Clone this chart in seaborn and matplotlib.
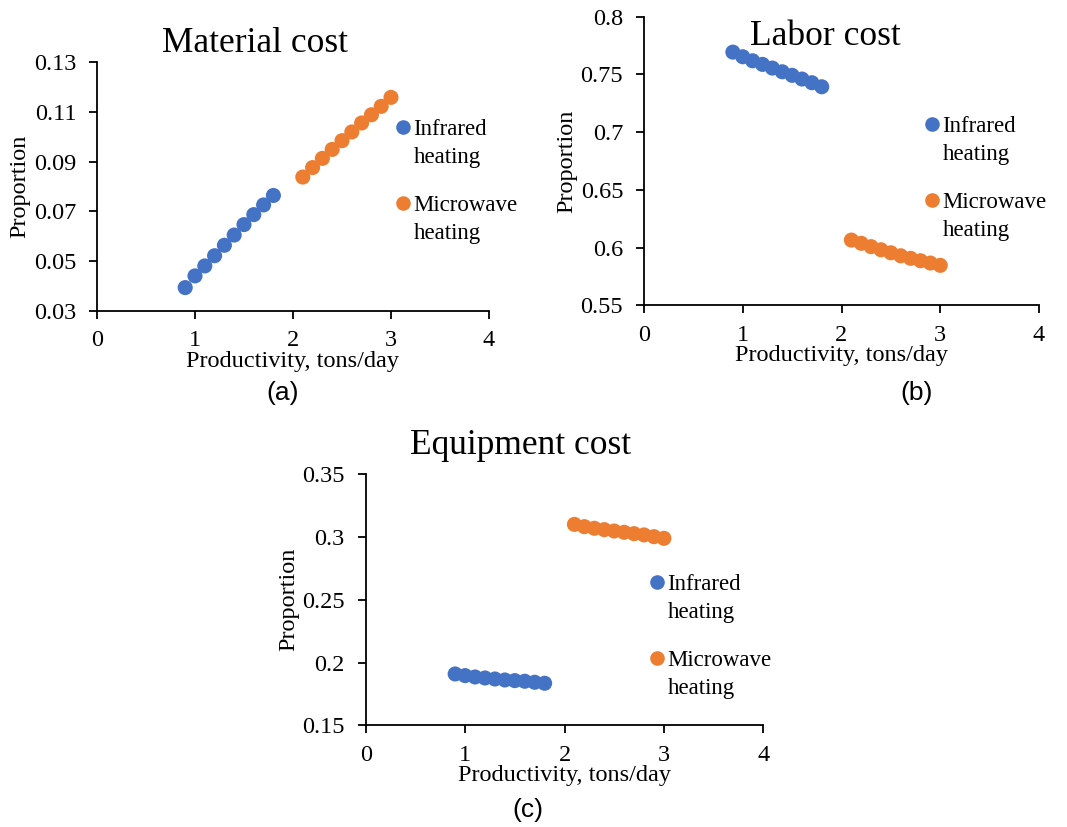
import numpy as np
import pandas as pd
import matplotlib
matplotlib.use("Agg")
import matplotlib.pyplot as plt
from matplotlib.lines import Line2D
from matplotlib.legend_handler import HandlerLine2D
import seaborn as sns

# Productivity levels (tons/day) for each heating method
productivity_ir = [0.9, 1.0, 1.1, 1.2, 1.3, 1.4, 1.5, 1.6, 1.7, 1.8]
productivity_mw = [2.1, 2.2, 2.3, 2.4, 2.5, 2.6, 2.7, 2.8, 2.9, 3.0]

# Cost proportions
material_ir = [0.0394, 0.0441, 0.0481, 0.0522, 0.0564, 0.0605, 0.0647, 0.0687, 0.0726, 0.0764]
material_mw = [0.0838, 0.0876, 0.0913, 0.0949, 0.0984, 0.1019, 0.1055, 0.1088, 0.1122, 0.1158]

labor_ir = [0.7693, 0.7653, 0.7618, 0.7587, 0.7555, 0.7523, 0.7492, 0.7460, 0.7428, 0.7393]
labor_mw = [0.6065, 0.6037, 0.6008, 0.5981, 0.5955, 0.5929, 0.5907, 0.5886, 0.5866, 0.5846]

equipment_ir = [0.1909, 0.1896, 0.1885, 0.1877, 0.1869, 0.1861, 0.1856, 0.1851, 0.1843, 0.1835]
equipment_mw = [0.3101, 0.3083, 0.3070, 0.3059, 0.3048, 0.3038, 0.3027, 0.3017, 0.3003, 0.2990]

methods = ["Infrared heating", "Microwave heating"]
legend_labels = ["Infrared\nheating", "Microwave\nheating"]
palette = {"Infrared heating": "#4472C4", "Microwave heating": "#ED7D31"}

x_ticks = [0, 1, 2, 3, 4]
material_ticks = [0.03, 0.05, 0.07, 0.09, 0.11, 0.13]
labor_ticks = [0.55, 0.6, 0.65, 0.7, 0.75, 0.8]
equipment_ticks = [0.15, 0.2, 0.25, 0.3, 0.35]

sns.set_style("ticks")
plt.rcParams["font.family"] = ["Liberation Serif", "DejaVu Serif"]
plt.rcParams["text.color"] = "black"
plt.rcParams["axes.labelcolor"] = "black"
plt.rcParams["xtick.color"] = "black"
plt.rcParams["ytick.color"] = "black"
plt.rcParams["axes.linewidth"] = 1.3
plt.rcParams["xtick.major.width"] = 1.3
plt.rcParams["ytick.major.width"] = 1.3

W, H = 1067, 827
fig = plt.figure(figsize=(W / 100, H / 100), dpi=100)

LABEL_FS = 17.5
LEGEND_FS = 16.5
LINESPACING = 1.42


class FirstLineMarker(HandlerLine2D):
    """Legend marker aligned with the first line of a two-line label."""

    def __init__(self, shift, **kw):
        super().__init__(**kw)
        self.shift = shift

    def create_artists(self, legend, orig_handle, xdescent, ydescent, width, height, fontsize, trans):
        arts = super().create_artists(legend, orig_handle, xdescent, ydescent,
                                      width, height, fontsize, trans)
        for a in arts:
            a.set_ydata(np.asarray(a.get_ydata(), dtype=float) + self.shift)
        return arts


def frame(left, right, top, bottom):
    return [left / W, 1 - bottom / H, (right - left) / W, (bottom - top) / H]


def make_df(ir, mw):
    return pd.DataFrame({
        "Productivity": productivity_ir + productivity_mw,
        "Proportion": ir + mw,
        "Method": [methods[0]] * len(ir) + [methods[1]] * len(mw),
    })


def panel(rect, ir, mw, yticks, title, title_xy, leg_px, tag, tag_xy):
    ax = fig.add_axes(frame(*rect))
    df = make_df(ir, mw)
    sns.scatterplot(data=df, x="Productivity", y="Proportion", hue="Method",
                    palette=palette, s=118, linewidth=0, ax=ax, legend=False, zorder=3)
    ax.set_xlim(x_ticks[0], x_ticks[-1])
    ax.set_ylim(yticks[0], yticks[-1])
    ax.set_xticks(x_ticks)
    ax.set_yticks(yticks)
    ax.set_xticklabels([str(t) for t in x_ticks])
    ax.set_yticklabels([f"{t:g}" for t in yticks])
    ax.tick_params(axis="both", direction="out", length=6, labelsize=LABEL_FS)
    ax.tick_params(axis="x", pad=8)
    ax.tick_params(axis="y", pad=9)
    for s in ("top", "right"):
        ax.spines[s].set_visible(False)
    for s in ("left", "bottom"):
        ax.spines[s].set_color("black")

    w_px = rect[1] - rect[0]
    h_px = rect[3] - rect[2]
    ax.set_xlabel("Productivity, tons/day", fontsize=LABEL_FS)
    ax.xaxis.set_label_coords(0.5, -50 / h_px)
    ax.xaxis.label.set_va("center")
    ax.set_ylabel("Proportion", fontsize=LABEL_FS)
    ax.yaxis.set_label_coords(-77 / w_px, 0.5)
    ax.yaxis.label.set_va("center")

    ax.text(title_xy[0], title_xy[1], title, transform=ax.transAxes,
            ha="center", va="baseline", fontsize=25.5)

    handles = [Line2D([], [], linestyle="", marker="o", markersize=10.5,
                      markerfacecolor=palette[m], markeredgewidth=0) for m in methods]
    shift = LINESPACING * LEGEND_FS / 2
    leg = ax.legend(handles, legend_labels, loc="upper left",
                    bbox_to_anchor=(leg_px[0] / W, 1 - leg_px[1] / H),
                    bbox_transform=fig.transFigure,
                    handler_map={Line2D: FirstLineMarker(shift)},
                    frameon=False, fontsize=LEGEND_FS, handletextpad=0.1, handlelength=0.7,
                    labelspacing=1.2, borderaxespad=0, borderpad=0)
    for t in leg.get_texts():
        t.set_linespacing(LINESPACING)

    fig.text(tag_xy[0] / W, 1 - tag_xy[1] / H, tag, ha="center", va="center",
             fontsize=19, family=["Liberation Sans", "DejaVu Sans"])
    return ax


panel((97, 489, 62, 311), material_ir, material_mw, material_ticks, "Material cost",
      (0.403, 1.04), (395, 119), "(a)", (283, 393))
panel((644, 1039, 16.7, 305.3), labor_ir, labor_mw, labor_ticks, "Labor cost",
      (0.458, 0.902), (924, 116), "(b)", (917, 393))
panel((365.7, 763.3, 474.3, 725.3), equipment_ir, equipment_mw, equipment_ticks, "Equipment cost",
      (0.389, 1.08), (649, 574), "(c)", (528, 810))

fig.savefig("out.png", dpi=100)
